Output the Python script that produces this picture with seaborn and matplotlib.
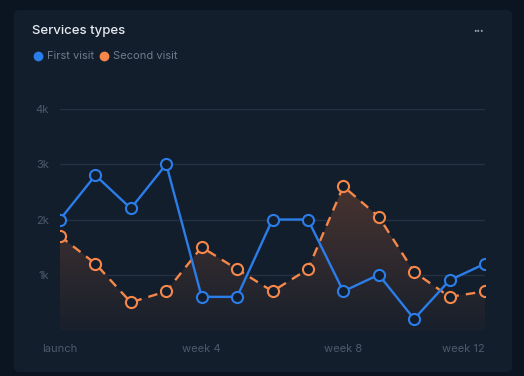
import numpy as np
import pandas as pd
import matplotlib
matplotlib.use("Agg")
import matplotlib.pyplot as plt
import seaborn as sns
from matplotlib.patches import FancyBboxPatch
from matplotlib.colors import LinearSegmentedColormap

categories = ["launch"] + [f"week {i}" for i in range(1, 13)]
first_visit = [2000, 2800, 2200, 3000, 600, 600, 2000, 2000, 700, 1000, 200, 900, 1200]
second_visit = [1700, 1200, 500, 700, 1500, 1100, 700, 1100, 2600, 2050, 1050, 600, 700]
y_ticks = [1000, 2000, 3000, 4000]
y_tick_labels = ["1k", "2k", "3k", "4k"]

BLUE = "#2b7de9"
ORANGE = "#f5874a"
PAGE = "#0b1522"
CARD = "#131e2c"
GRID = "#233142"
TICK = "#4c5a6b"

sns.set_theme(style="dark")
plt.rcParams['font.family'] = ['Inter', 'DejaVu Sans']

fig = plt.figure(figsize=(5.24, 3.76), dpi=100)
fig.patch.set_facecolor(PAGE)
W, H = 524, 376
card = FancyBboxPatch((14 / W, 4 / H), (512 - 14) / W, (366 - 4) / H,
                      boxstyle="round,pad=0,rounding_size=0.012",
                      transform=fig.transFigure, facecolor=CARD, edgecolor="none", zorder=-10)
fig.patches.append(card)

ax = fig.add_axes([60 / W, 1 - 330 / H, (485 - 60) / W, (330 - 109) / H])
ax.set_facecolor("none")
ax.set_zorder(5)

df = pd.DataFrame({"x": np.arange(len(categories)), "cat": categories,
                   "First visit": first_visit, "Second visit": second_visit})

# gradient fill under second visit
xs = df["x"].values
ys = df["Second visit"].values
poly = ax.fill_between(xs, 0, ys, facecolor="none", edgecolor="none")
grad = np.linspace(0, 1, 256).reshape(-1, 1)
img = ax.imshow(grad, extent=[0, 12, 0, 2700], origin="lower", aspect="auto",
                cmap=LinearSegmentedColormap.from_list("g2", ["#18202c", "#4a3430"]),
                zorder=1)
path = poly.get_paths()[0]
img.set_clip_path(path, transform=ax.transData)

sns.lineplot(data=df, x="x", y="First visit", ax=ax, color=BLUE, lw=1.7,
             marker="o", markersize=8, markerfacecolor=CARD, markeredgecolor=BLUE,
             markeredgewidth=1.5, zorder=4)
sns.lineplot(data=df, x="x", y="Second visit", ax=ax, color=ORANGE, lw=1.7,
             linestyle=(0, (4, 3)), marker="o", markersize=8, markerfacecolor=CARD,
             markeredgecolor=ORANGE, markeredgewidth=1.5, zorder=3)

ax.set_xlim(0, 12)
ax.set_ylim(0, 4000)
ax.set_yticks([0] + y_ticks)
ax.set_yticklabels([""] + y_tick_labels)
ax.set_xticks([0, 4, 8, 12])
ax.set_xticklabels([categories[i] for i in [0, 4, 8, 12]])
ax.get_xticklabels()[-1].set_horizontalalignment("right")
ax.tick_params(axis="both", colors=TICK, labelsize=8, length=0)
ax.tick_params(axis="y", pad=8)
ax.tick_params(axis="x", pad=10)
ax.grid(axis="y", color=GRID, lw=1)
ax.grid(axis="x", visible=False)
ax.set_axisbelow(True)
for s in ax.spines.values():
    s.set_visible(False)
ax.set_xlabel("")
ax.set_ylabel("")

fig.text(32 / W, 1 - 31 / H, "Services types", color="#e6ebf1", fontsize=9.5,
         fontweight="medium", va="center", ha="left")
fig.text(478 / W, 1 - 31 / H, "•••", color="#9aa6b4", fontsize=4.5, va="center", ha="center")
fig.lines.append(plt.Line2D([38 / W], [1 - 56 / H], marker="o", markersize=6,
                            color=BLUE, transform=fig.transFigure))
fig.text(47 / W, 1 - 56 / H, "First visit", color="#6f7c8c", fontsize=8, va="center")
fig.lines.append(plt.Line2D([104 / W], [1 - 56 / H], marker="o", markersize=6,
                            color=ORANGE, transform=fig.transFigure))
fig.text(113 / W, 1 - 56 / H, "Second visit", color="#6f7c8c", fontsize=8, va="center")

fig.savefig("out.png", dpi=100, facecolor=fig.get_facecolor())
